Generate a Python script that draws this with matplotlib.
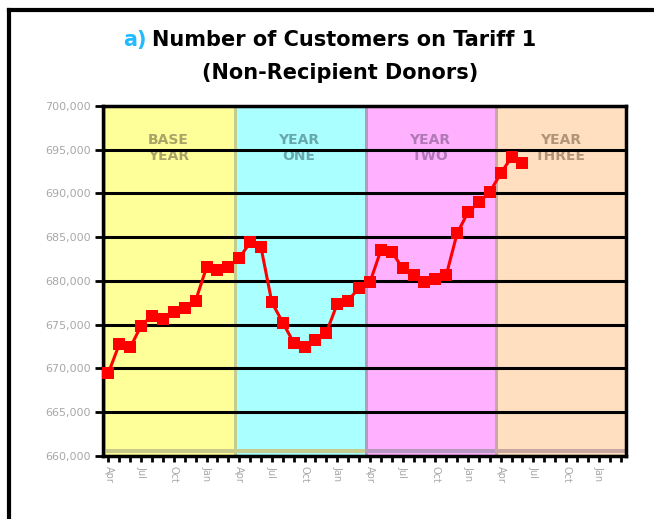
import matplotlib
matplotlib.use("Agg")
import matplotlib.pyplot as plt
from matplotlib.ticker import FuncFormatter, MultipleLocator

# ---- data ----
period_names = ["BASE\nYEAR", "YEAR\nONE", "YEAR\nTWO", "YEAR\nTHREE"]
quarter_labels = ["Apr", "Jul", "Oct", "Jan"] * 4
customers = [669500, 672800, 672400, 674900, 676050, 675700, 676400, 676950,
             677750, 681550, 681200, 681650, 682600, 684400, 683850, 677550,
             675250, 672950, 672500, 673300, 674100, 677400, 677750, 679250,
             679850, 683500, 683350, 681450, 680650, 679850, 680200, 680650,
             685450, 687850, 689000, 690150, 692300, 694150, 693450]

band_colors = ["#FFFF99", "#AAFFFF", "#FFB0FF", "#FFDFC0"]
band_edge = ["#C8C88A", "#C4CC90", "#B898C0", "#C8A8A0"]
band_text = ["#A8A468", "#68A8AC", "#B078B4", "#B09478"]

fig = plt.figure(figsize=(6.54, 5.19), dpi=100)
ax = fig.add_axes([103/654, 63/519, 523/654, 350/519])

ymin, ymax = 660000, 700000
ax.set_xlim(0, 48)
ax.set_ylim(ymin, ymax)

for i in range(4):
    ax.axvspan(12*i, 12*(i+1), color=band_colors[i], lw=0, zorder=0)
    ax.axvspan(12*i, 12*i + 0.28, color=band_edge[i], lw=0, zorder=0.5)
    ax.fill_between([12*i, 12*(i+1)], ymin + 350, ymin + 850,
                    color=band_edge[i], lw=0, zorder=0.5)
    ax.text(12*i + 6, 695200, period_names[i], ha="center", va="center",
            fontsize=10, fontweight="bold", color=band_text[i],
            linespacing=1.1, zorder=1)

ax.yaxis.set_major_locator(MultipleLocator(5000))
ax.grid(axis="y", color="black", lw=2.2, zorder=2)
ax.set_axisbelow(False)

months = [m + 0.5 for m in range(len(customers))]
ax.plot(months, customers, color="red", lw=2.2, marker="s", markersize=8,
        markeredgewidth=0, zorder=3, clip_on=False)

ax.yaxis.set_major_formatter(FuncFormatter(lambda v, p: f"{int(v):,}"))
ax.tick_params(axis="y", labelsize=8, labelcolor="#A8A8A8", length=6,
               width=2, color="black", pad=3)

ax.set_xticks([m + 0.5 for m in range(48)], minor=True)
ax.set_xticks([3*k + 0.5 for k in range(16)])
ax.set_xticklabels(quarter_labels, rotation=270, fontsize=7, color="#A8A8A8")
ax.tick_params(axis="x", which="both", length=4, width=2, color="black", pad=3)

for s in ax.spines.values():
    s.set_color("black")
    s.set_linewidth(2.5)

# title
fig.text(147/654, 1 - 40/519, "a)", color="#22BBFF", fontsize=15,
         fontweight="bold", ha="right", va="center")
fig.text(152/654, 1 - 40/519, "Number of Customers on Tariff 1", color="black",
         fontsize=15, fontweight="bold", ha="left", va="center")
fig.text(340/654, 1 - 73/519, "(Non-Recipient Donors)", color="black",
         fontsize=15, fontweight="bold", ha="center", va="center")

# outer frame (top and left edges)
fig.add_artist(plt.Line2D([9/654, 1], [1 - 10/519, 1 - 10/519],
                          transform=fig.transFigure, color="black", lw=3))
fig.add_artist(plt.Line2D([9/654, 9/654], [0, 1 - 10/519],
                          transform=fig.transFigure, color="black", lw=3))

fig.savefig("out.png", dpi=100)
